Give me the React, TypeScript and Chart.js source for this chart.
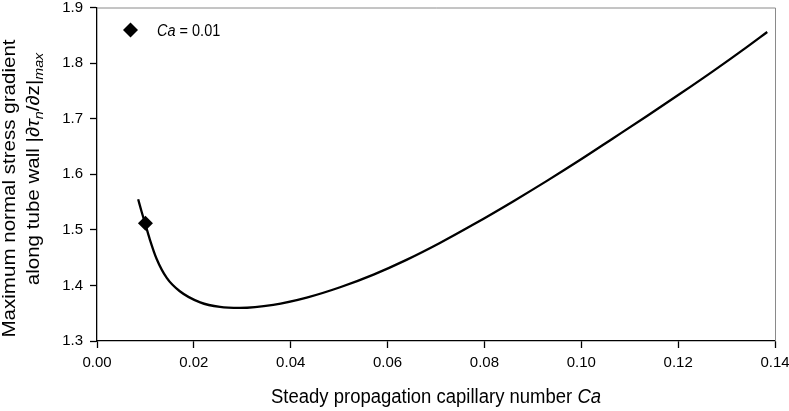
import React, { useEffect, useRef } from "react";
import { Chart, registerables } from "chart.js";

Chart.register(...registerables);

// Curve: steady propagation capillary number vs max normal stress gradient
const curveCa = [0.0085, 0.0092, 0.0099, 0.0109, 0.0123, 0.0144, 0.0171, 0.0213, 0.0254, 0.0295, 0.0364, 0.0433, 0.0502, 0.0571, 0.0639, 0.0708, 0.0777, 0.0860, 0.0929, 0.0998, 0.1066, 0.1135, 0.1204, 0.1273, 0.1341, 0.1384];
const curveGrad = [1.555, 1.533, 1.5125, 1.483, 1.448, 1.4135, 1.3895, 1.3695, 1.3612, 1.3595, 1.3650, 1.3781, 1.3967, 1.4195, 1.4460, 1.4764, 1.5095, 1.5516, 1.5881, 1.6260, 1.6649, 1.7045, 1.7447, 1.7860, 1.8283, 1.8560];

// Highlighted point
const markerCa = [0.01];
const markerGrad = [1.512];
const markerLabel = "0.01";

const xTicks = { min: 0, max: 0.14, step: 0.02, decimals: 2 };
const yTicks = { min: 1.3, max: 1.9, step: 0.1, decimals: 1 };

const FONT = "'Liberation Sans', Arial, Helvetica, sans-serif";

const decorPlugin = {
  id: "decor",
  afterDraw(chart: any) {
    const ctx = chart.ctx as CanvasRenderingContext2D;
    const area = chart.chartArea;
    ctx.save();
    // gray frame top and right
    ctx.strokeStyle = "#8a8a8a";
    ctx.lineWidth = 1;
    ctx.beginPath();
    ctx.moveTo(area.left, area.top + 0.5);
    ctx.lineTo(area.right + 0.5, area.top + 0.5);
    ctx.lineTo(area.right + 0.5, area.bottom);
    ctx.stroke();

    ctx.fillStyle = "#000";
    ctx.textBaseline = "alphabetic";

    // X title
    const xs1 = "Steady propagation capillary number ";
    const xs2 = "Ca";
    const xsz = 18.5;
    ctx.font = `${xsz}px ${FONT}`;
    const w1 = ctx.measureText(xs1).width;
    ctx.font = `italic ${xsz}px ${FONT}`;
    const w2 = ctx.measureText(xs2).width;
    const cx = (area.left + area.right) / 2;
    const x0 = cx - (w1 + w2) / 2;
    ctx.save();
    ctx.translate(0, 403);
    ctx.scale(1, 1.08);
    ctx.font = `${xsz}px ${FONT}`;
    ctx.fillText(xs1, x0, 0);
    ctx.font = `italic ${xsz}px ${FONT}`;
    ctx.fillText(xs2, x0 + w1, 0);
    ctx.restore();

    // Y title (two lines, rotated)
    const sz = 18.7;
    const stretch = 1.1;
    const line1 = "Maximum normal stress gradient";
    ctx.save();
    ctx.translate(15, 188.5);
    ctx.rotate(-Math.PI / 2);
    ctx.scale(stretch, 1);
    ctx.font = `${sz}px ${FONT}`;
    const l1w = ctx.measureText(line1).width;
    ctx.fillText(line1, -l1w / 2, 0);
    ctx.restore();

    type Seg = { t: string; italic?: boolean; sub?: boolean };
    const segs: Seg[] = [
      { t: "along tube wall |\u2202" },
      { t: "\u03C4", italic: true },
      { t: "n", italic: true, sub: true },
      { t: "/\u2202z|" },
      { t: "max", italic: true, sub: true },
    ];
    const fontFor = (s: Seg) => `${s.italic ? "italic " : ""}${s.sub ? 13 : sz}px ${FONT}`;
    ctx.save();
    ctx.translate(38.5, 169);
    ctx.rotate(-Math.PI / 2);
    ctx.scale(stretch, 1);
    let total = 0;
    for (const s of segs) {
      ctx.font = fontFor(s);
      total += ctx.measureText(s.t).width;
    }
    let px = -total / 2;
    for (const s of segs) {
      ctx.font = fontFor(s);
      ctx.fillText(s.t, px, s.sub ? 4.5 : 0);
      px += ctx.measureText(s.t).width;
    }
    ctx.restore();

    // Legend
    const lx = 130.5, ly = 30;
    const r = 7.5;
    ctx.beginPath();
    ctx.moveTo(lx, ly - r);
    ctx.lineTo(lx + r, ly);
    ctx.lineTo(lx, ly + r);
    ctx.lineTo(lx - r, ly);
    ctx.closePath();
    ctx.fill();
    ctx.save();
    ctx.translate(157, 36);
    ctx.scale(1, 1.1);
    ctx.font = `italic 14.5px ${FONT}`;
    ctx.fillText("Ca", 0, 0);
    const cw = ctx.measureText("Ca").width;
    ctx.font = `14.5px ${FONT}`;
    ctx.fillText(" = " + markerLabel, cw, 0);
    ctx.restore();

    ctx.restore();
  },
};

export default function App() {
  const ref = useRef<HTMLCanvasElement | null>(null);
  useEffect(() => {
    if (!ref.current) return;
    const chart = new Chart(ref.current, {
      type: "scatter",
      data: {
        datasets: [
          {
            type: "line",
            data: curveCa.map((x, i) => ({ x, y: curveGrad[i] })),
            borderColor: "#000",
            borderWidth: 2.3,
            pointRadius: 0,
            cubicInterpolationMode: "monotone",
            fill: false,
          } as any,
          {
            data: markerCa.map((x, i) => ({ x, y: markerGrad[i] })),
            pointStyle: "rectRot",
            pointRadius: 7.5,
            backgroundColor: "#000",
            borderColor: "#000",
            borderWidth: 0,
          } as any,
        ],
      },
      options: {
        responsive: false,
        animation: false,
        devicePixelRatio: 1,
        layout: { padding: { top: 6, right: 14, left: 0, bottom: 0 } },
        plugins: { legend: { display: false }, tooltip: { enabled: false } },
        scales: {
          x: {
            type: "linear",
            min: xTicks.min,
            max: xTicks.max,
            afterFit(scale: any) {
              scale.height = 70;
              scale.paddingLeft = 0;
              scale.paddingRight = 0;
            },
            ticks: {
              stepSize: xTicks.step,
              color: "#000",
              padding: 6,
              maxRotation: 0,
              font: { family: FONT, size: 15 },
              callback: (v: any) => Number(v).toFixed(xTicks.decimals),
            },
            grid: { drawOnChartArea: false, drawTicks: true, tickLength: 7, color: "#000", tickColor: "#000", tickWidth: 1.3 },
            border: { display: true, color: "#000", width: 1.3 },
          },
          y: {
            type: "linear",
            min: yTicks.min,
            max: yTicks.max,
            afterFit(scale: any) {
              scale.width = 97;
              scale.paddingTop = 0;
              scale.paddingBottom = 0;
            },
            ticks: {
              stepSize: yTicks.step,
              color: "#000",
              padding: 7,
              font: { family: FONT, size: 15 },
              callback: (v: any) => Number(v).toFixed(yTicks.decimals),
            },
            grid: { drawOnChartArea: false, drawTicks: true, tickLength: 7, color: "#000", tickColor: "#000", tickWidth: 1.3 },
            border: { display: true, color: "#000", width: 1.3 },
          },
        },
      },
      plugins: [decorPlugin],
    } as any);
    return () => chart.destroy();
  }, []);
  return (
    <div style={{ position: "absolute", left: 0, top: 0, width: 789, height: 411, background: "#fff" }}>
      <canvas ref={ref} width={789} height={411} style={{ display: "block" }} />
    </div>
  );
}
